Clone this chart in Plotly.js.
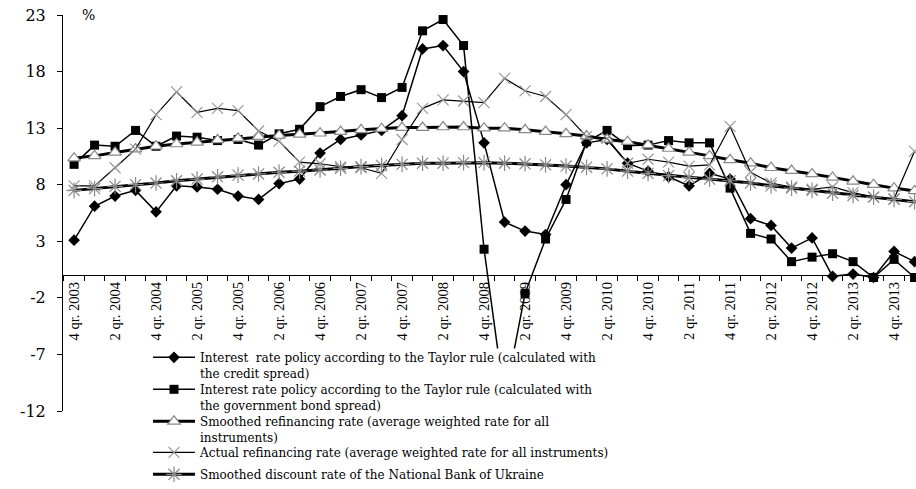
<!DOCTYPE html>
<html>
<head>
<meta charset="utf-8">
<script src="https://cdn.plot.ly/plotly-3.0.1.min.js"></script>
<style>html,body{margin:0;padding:0;background:#fff;}#chart{width:916px;height:489px;}</style>
</head>
<body>
<div id="chart"></div>
<script>
var quarters = ["4 qr. 2003","1 qr. 2004","2 qr. 2004","3 qr. 2004","4 qr. 2004","1 qr. 2005","2 qr. 2005","3 qr. 2005","4 qr. 2005",
"1 qr. 2006","2 qr. 2006","3 qr. 2006","4 qr. 2006","1 qr. 2007","2 qr. 2007","3 qr. 2007","4 qr. 2007",
"1 qr. 2008","2 qr. 2008","3 qr. 2008","4 qr. 2008","1 qr. 2009","2 qr. 2009","3 qr. 2009","4 qr. 2009",
"1 qr. 2010","2 qr. 2010","3 qr. 2010","4 qr. 2010","1 qr. 2011","2 qr. 2011","3 qr. 2011","4 qr. 2011",
"1 qr. 2012","2 qr. 2012","3 qr. 2012","4 qr. 2012","1 qr. 2013","2 qr. 2013","3 qr. 2013","4 qr. 2013","1 qr. 2014"];

var taylorCredit = [3.1,6.1,7.0,7.5,5.6,7.9,7.8,7.6,7.0,6.7,
8.1,8.5,10.8,12.0,12.4,12.8,14.1,20.0,20.3,18.0,
11.7,4.7,3.9,3.6,8.0,11.7,12.0,9.9,9.2,8.7,
7.9,9.0,8.5,5.0,4.4,2.4,3.3,-0.1,0.1,-0.2,
2.1,1.2];

var taylorBond = [9.8,11.5,11.4,12.8,11.4,12.3,12.2,11.9,12.0,11.5,
12.5,12.9,14.9,15.8,16.4,15.7,16.6,21.6,22.6,20.3,
2.3,-11.0,-1.6,3.2,6.7,11.8,12.8,11.45,11.5,11.9,
11.7,11.7,7.7,3.7,3.2,1.2,1.6,1.9,1.2,-0.2,
1.4,-0.2];

var smoothedRefi = [10.35,10.55,10.85,11.15,11.4,11.6,11.75,11.95,12.1,12.25,
12.35,12.45,12.55,12.7,12.85,12.95,13.05,13.05,13.1,13.1,
13.0,13.0,12.85,12.7,12.5,12.3,12.0,11.8,11.5,11.2,
10.85,10.55,10.2,9.9,9.5,9.25,8.95,8.65,8.3,8.0,
7.7,7.45];

var actualRefi = [7.9,7.9,9.5,11.15,14.2,16.2,14.4,14.75,14.55,12.75,
11.85,10.0,9.85,9.6,9.5,9.0,12.0,14.75,15.5,15.4,
15.25,17.4,16.3,15.8,14.2,12.25,12.1,9.9,10.25,10.0,
9.65,9.75,13.15,9.1,8.15,7.8,7.6,7.8,7.3,6.9,
6.75,10.95];

var smoothedDiscount = [7.5,7.65,7.85,8.0,8.15,8.35,8.5,8.7,8.85,8.95,
9.1,9.2,9.3,9.45,9.6,9.7,9.8,9.9,9.9,9.95,
9.95,9.9,9.85,9.75,9.65,9.55,9.4,9.2,9.0,8.8,
8.65,8.5,8.35,8.15,7.9,7.7,7.5,7.25,7.05,6.9,
6.7,6.5];

var seriesNames = [
  "Interest  rate policy according to the Taylor rule (calculated with<br>the credit spread)",
  "Interest rate policy according to the Taylor rule (calculated with<br>the government bond spread)",
  "Smoothed refinancing rate (average weighted rate for all<br>instruments)",
  "Actual refinancing rate (average weighted rate for all instruments)",
  "Smoothed discount rate of the National Bank of Ukraine"
];

var yTicks = [-12,-7,-2,3,8,13,18,23];
var yTickText = ["-12","-7","-2","3","8","13","18","23"];

var idx = quarters.map(function(_, i){ return i; });
var labelIdx = idx.filter(function(i){ return i % 2 === 0 && i <= 40; });
var labelText = labelIdx.map(function(i){ return quarters[i]; });

var traces = [
  {x: idx, y: taylorCredit, name: seriesNames[0], mode: 'lines+markers', legend: 'legend',
   line: {color: '#000', width: 1.5}, marker: {symbol: 'diamond', size: 9, color: '#000'}},
  {x: idx, y: taylorBond, name: seriesNames[1], mode: 'lines+markers', legend: 'legend2',
   line: {color: '#000', width: 1.5}, marker: {symbol: 'square', size: 9, color: '#000'}},
  {x: idx, y: smoothedRefi, name: seriesNames[2], mode: 'lines+markers', legend: 'legend3',
   line: {color: '#000', width: 3}, marker: {symbol: 'triangle-up', size: 11, color: '#fff', line: {color: '#888', width: 1.2}}},
  {x: idx, y: actualRefi, name: seriesNames[3], mode: 'lines+markers', legend: 'legend4',
   line: {color: '#000', width: 1.2}, marker: {symbol: 'x-thin', size: 11, color: '#999', line: {color: '#999', width: 1.2}}},
  {x: idx, y: smoothedDiscount, name: seriesNames[4], mode: 'lines+markers', legend: 'legend5',
   line: {color: '#000', width: 3}, marker: {symbol: 'asterisk-open', size: 13, color: '#888', line: {color: '#888', width: 1.2}}}
];

// plot area in pixels: top 15, bottom 412 (height 397), left 63, width 853
var PT = 15, PB = 412, PL = 63, PW = 853;
var firstLineY = [357, 389, 421, 452, 475];
function legendAt(py) {
  return {
    x: (148 - PL)/PW, xanchor: 'left',
    y: (PB - (py - 14))/(PB - PT), yanchor: 'top',
    bgcolor: 'rgba(0,0,0,0)', borderwidth: 0,
    font: {family: 'DejaVu Serif, serif', size: 12, color: '#000'},
    valign: 'top', itemwidth: 42
  };
}

var layout = {
  width: 916, height: 489,
  margin: {l: 63, r: 0, t: 15, b: 77},
  paper_bgcolor: '#fff', plot_bgcolor: '#fff',
  font: {family: 'Liberation Serif, serif', color: '#000'},
  showlegend: true,
  legend: legendAt(firstLineY[0]),
  legend2: legendAt(firstLineY[1]),
  legend3: legendAt(firstLineY[2]),
  legend4: legendAt(firstLineY[3]),
  legend5: legendAt(firstLineY[4]),
  xaxis: {
    range: [-0.54, 41.07],
    anchor: 'free', position: 12/35,
    showline: true, linecolor: '#000', linewidth: 1,
    showgrid: false, zeroline: false,
    tickmode: 'array', tickvals: labelIdx, ticktext: labelText,
    ticks: '', tickangle: -90,
    tickfont: {family: 'Liberation Serif, serif', size: 14.5, color: '#000'},
    minor: {tickmode: 'linear', tick0: -0.5, dtick: 1, ticks: 'outside', ticklen: 5, tickcolor: '#000', showgrid: false}
  },
  yaxis: {
    range: [-12, 23],
    showline: true, linecolor: '#000', linewidth: 1,
    showgrid: false, zeroline: false,
    tickmode: 'array', tickvals: yTicks, ticktext: yTickText,
    ticks: 'outside', ticklen: 5, tickcolor: '#000',
    ticklabelstandoff: 8,
    tickfont: {family: 'DejaVu Serif, serif', size: 16, color: '#000'}
  },
  shapes: [{
    type: 'rect', layer: 'above', xref: 'paper', yref: 'paper',
    x0: 0.1, x1: 0.8, y0: -0.2, y1: 0.158,
    fillcolor: '#fff', line: {width: 0}
  }],
  annotations: [{
    text: '%', xref: 'paper', yref: 'paper', x: 0.02, y: 1.0, xanchor: 'left', yanchor: 'middle',
    showarrow: false, font: {family: 'DejaVu Serif, serif', size: 14, color: '#000'}
  }]
};

Plotly.newPlot('chart', traces, layout, {displayModeBar: false, staticPlot: true});
</script>
</body>
</html>
